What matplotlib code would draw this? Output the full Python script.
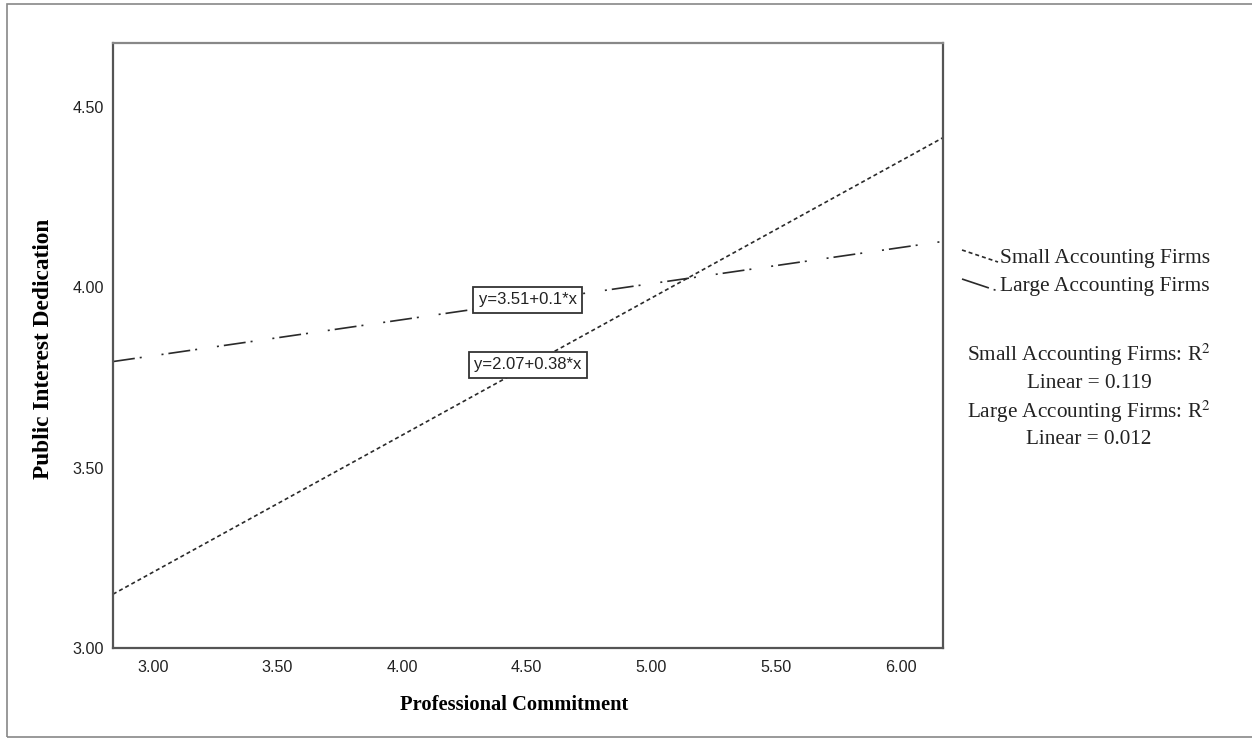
import numpy as np
import matplotlib.pyplot as plt
from matplotlib.patches import Rectangle
from matplotlib.lines import Line2D

# fitted lines (SPSS style output)
groups = ['Small Accounting Firms', 'Large Accounting Firms']
intercepts = [2.07, 3.51]
slopes = [0.38, 0.1]
r2 = [0.119, 0.012]
x_ticks = [3.00, 3.50, 4.00, 4.50, 5.00, 5.50, 6.00]
y_ticks = [3.00, 3.50, 4.00, 4.50]
x_lim = (2.84, 6.17)
y_lim = (3.00, 4.677)

fig = plt.figure(figsize=(12.52, 7.38), dpi=100)
ax = fig.add_axes([113/1252, 90/738, 830/1252, 605/738])

lw = 1.2
dashes = [(0, (2.4, 1.8)), (0, (13.2, 3.0, 1.2, 12.0, 1.2, 3.0))]
xs = np.array(x_lim)
for b0, b1, ls in zip(intercepts, slopes, dashes):
    ax.plot(xs, b0 + b1 * xs, color='#2a2a2a', lw=lw, linestyle=ls)

ax.set_xlim(*x_lim)
ax.set_ylim(*y_lim)
ax.set_xticks(x_ticks)
ax.set_yticks(y_ticks)
ax.set_xticklabels(['%.2f' % v for v in x_ticks], family='Liberation Sans', fontsize=11.6, color='#222222')
ax.set_yticklabels(['%.2f' % v for v in y_ticks], family='Liberation Sans', fontsize=11.6, color='#222222')
ax.tick_params(axis='x', length=0, pad=8.5)
ax.tick_params(axis='y', length=0, pad=6.5)
for s in ax.spines.values():
    s.set_color('#555555')
    s.set_linewidth(1.6)
ax.spines['top'].set_color('#888888')

ax.set_xlabel('Professional Commitment', family='Liberation Serif', fontweight='bold', fontsize=14.8, va='center')
ax.xaxis.set_label_coords(0.483, -0.094)
ax.set_ylabel('Public Interest Dedication', family='Liberation Serif', fontweight='bold', fontsize=16.8, va='center')
ax.yaxis.set_label_coords(-0.0843, 0.495)

# equation boxes
box_pos = [(4.504, 3.785), (4.504, 3.965)]
for b0, b1, (bx, by) in zip(intercepts, slopes, box_pos):
    ax.text(bx, by, 'y=%s+%s*x' % (('%.2f' % b0).rstrip('0').rstrip('.'), ('%.2f' % b1).rstrip('0').rstrip('.')),
            family='Liberation Sans', fontsize=12, ha='center', va='center', color='#222222',
            bbox=dict(boxstyle='square,pad=0.32', fc='white', ec='#333333', lw=1.3))

# legend drawn on the figure
leg_y = [258, 287]
for i, (name, ls) in enumerate(zip(groups, dashes)):
    y = 1 - leg_y[i] / 738
    fig.add_artist(Line2D([962/1252, 998/1252], [y + 8/738, y - 4/738], color='#2a2a2a', lw=lw,
                          linestyle=ls if i == 0 else (0, (17, 3, 1.2, 3))))
    fig.text(1000/1252, y, name, family='Liberation Serif', fontsize=15.5, va='center', color='#222222')

r2_lines = []
for name, r in zip(groups, r2):
    r2_lines += [name + ': R$^2$', 'Linear = %.3f' % r]
for i, t in enumerate(r2_lines):
    fig.text(1089/1252, 1 - (355 + 28.3 * i) / 738, t, family='Liberation Serif', fontsize=15.3,
             ha='center', va='center', color='#222222', math_fontfamily='stix')

fig.add_artist(Rectangle((7/1252, 1/738), 1.2, 733/738, transform=fig.transFigure,
                         fill=False, ec='#888888', lw=1.2))

fig.savefig('out.png', dpi=100)
